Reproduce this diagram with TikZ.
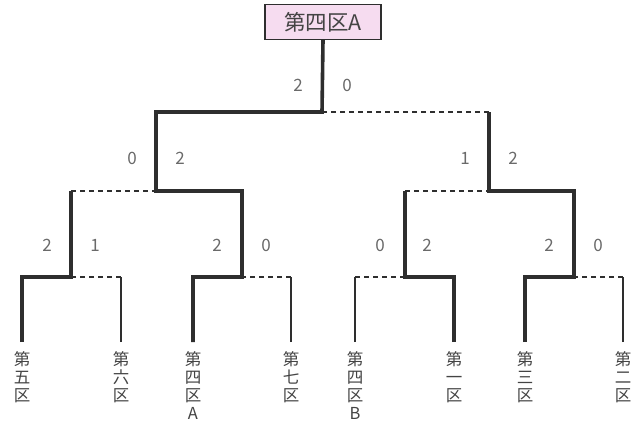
\documentclass[tikz,border=0pt]{standalone}
\usepackage{fontspec}
\setmainfont{Noto Sans CJK JP}
\definecolor{linegray}{HTML}{2E2E2E}
\definecolor{textgray}{HTML}{444444}
\definecolor{scoregray}{HTML}{6A6A6A}
\definecolor{boxpink}{HTML}{F6DCF0}
\tikzset{won/.style={draw=linegray,line width=3.6pt,line join=miter},
         lost/.style={draw=linegray,line width=1.8pt,dash pattern=on 5pt off 4pt},
         leaf/.style={draw=linegray,line width=1.6pt},
         team/.style={anchor=north,align=center,text=textgray,font=\fontsize{16.5}{18}\selectfont,inner sep=0pt},
         score/.style={text=scoregray,font=\fontsize{17}{17}\selectfont,inner sep=0pt},
         champbox/.style={draw=linegray,line width=1.2pt,fill=boxpink,minimum width=116pt,minimum height=35pt,
                          text=textgray,font=\fontsize{21.5}{21.5}\selectfont}}

\begin{document}
\begin{tikzpicture}[x=1pt,y=-1pt]
    \useasboundingbox (0,0) rectangle (638,421);

    \node[champbox] at (323,22)      (champ) {第四区A};

    \node[team] at (22,351)          (t5)  {第\\五\\区};
    \node[team] at (121,351)         (t6)  {第\\六\\区};
    \node[team] at (193,351)         (t4a) {第\\四\\区\\A};
    \node[team] at (291,351)         (t7)  {第\\七\\区};
    \node[team] at (355,351)         (t4b) {第\\四\\区\\B};
    \node[team] at (454,351)         (t1)  {第\\一\\区};
    \node[team] at (525,351)         (t3)  {第\\三\\区};
    \node[team] at (623,351)         (t2)  {第\\二\\区};

    \coordinate (fin) at (322,112);
    \coordinate (s2u) at (489,112);
    \coordinate (s1)  at (156,191);
    \coordinate (s2)  at (489,191);
    \coordinate (q1u) at (71,191);
    \coordinate (q3u) at (405,191);
    \coordinate (q1)  at (71,277);
    \coordinate (q2)  at (242,277);
    \coordinate (q3)  at (405,277);
    \coordinate (q4)  at (574,277);
    \coordinate (q1r) at (121,277);
    \coordinate (q2r) at (291,277);
    \coordinate (q3l) at (355,277);
    \coordinate (q4r) at (623,277);

    \node[score] at (298,85)   (fl)  {2};
    \node[score] at (347,85)   (fr)  {0};
    \node[score] at (132,158)  (s1l) {0};
    \node[score] at (180,158)  (s1r) {2};
    \node[score] at (465,158)  (s2l) {1};
    \node[score] at (513,158)  (s2r) {2};
    \node[score] at (47,245)   (q1l) {2};
    \node[score] at (95,245)   (q1s) {1};
    \node[score] at (217,245)  (q2l) {2};
    \node[score] at (266,245)  (q2s) {0};
    \node[score] at (380,245)  (q3s) {0};
    \node[score] at (427,245)  (q3r) {2};
    \node[score] at (549,245)  (q4l) {2};
    \node[score] at (598,245)  (q4s) {0};

    \draw[won] (t4a.north) ++(0,-9) |- (q2) |- (s1) |- (fin) -- (champ.south);
    \draw[won] (t5.north) ++(0,-9) |- (q1) -- (q1u);
    \draw[won] (t1.north) ++(0,-9) |- (q3) -- (q3u);
    \draw[won] (t3.north) ++(0,-9) |- (q4) |- (s2) -- (s2u);

    \draw[leaf] (t6.north) ++(0,-9) -- (q1r);
    \draw[leaf] (t7.north) ++(0,-9) -- (q2r);
    \draw[leaf] (t4b.north) ++(0,-9) -- (q3l);
    \draw[leaf] (t2.north) ++(0,-9) -- (q4r);

    \draw[lost] (q1r) -- (q1);
    \draw[lost] (q2r) -- (q2);
    \draw[lost] (q3l) -- (q3);
    \draw[lost] (q4r) -- (q4);
    \draw[lost] (q1u) -- (s1);
    \draw[lost] (q3u) -- (s2);
    \draw[lost] (s2u) -- (fin);
\end{tikzpicture}
\end{document}
